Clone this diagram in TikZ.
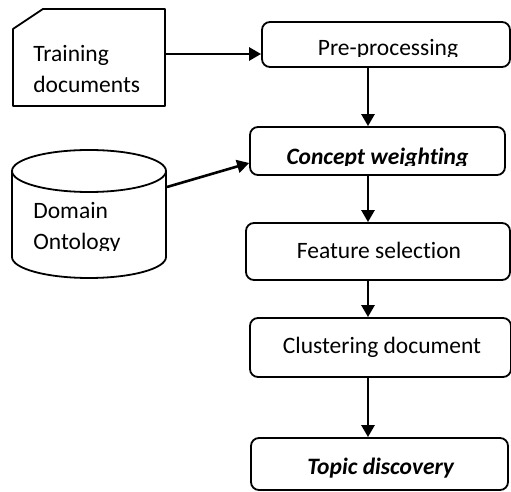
\documentclass[tikz,border=0pt]{standalone}
\usepackage{fontspec}
\setmainfont{Carlito}[Ligatures=NoCommon]
\usetikzlibrary{arrows.meta}

\tikzset{
  procbox/.style={draw,rounded corners=4pt,line width=0.9pt,inner sep=0pt},
  lbl/.style={inner sep=0pt,font=\fontsize{11.75}{15.5}\selectfont},
  flow/.style={->,line width=1.3pt},
}

\begin{document}
\begin{tikzpicture}[x=0.5pt,y=-0.5pt,line join=round,>={Triangle[length=6pt,width=6.5pt]}]
        \useasboundingbox (0,0) rectangle (511,492);
        % input document card
        \draw[line width=0.9pt] (13,29) -- (43,9) -- (165,9) -- (165,106) -- (13,106) -- cycle;
        \coordinate (trainE) at (165,54);
        \node[lbl,align=left,anchor=base west] (traintxt) at (33,93) {Training\\documents};
        % ontology store
        \draw[line width=0.9pt,fill=white] (12,171) -- (12,257) arc[start angle=180,end angle=0,x radius=77,y radius=21] -- (166,171);
        \draw[line width=0.9pt] (89,171) ellipse [x radius=77,y radius=21];
        \coordinate (ontoE) at (167,187);
        \begin{scope}
          \clip (12,192) rectangle (166,251);
          \node[lbl,align=left,anchor=base west] (ontotxt) at (33,250) {Domain\\Ontology};
        \end{scope}
        % processing chain
        \node[procbox,minimum width=124pt,minimum height=22.5pt] (prep) at (386,44.5) {};
        \node[procbox,minimum width=127.5pt,minimum height=24pt] (concept) at (377.5,151) {};
        \node[procbox,minimum width=132pt,minimum height=28.5pt] (feature) at (378,251.5) {};
        \node[procbox,minimum width=130.5pt,minimum height=29.5pt] (cluster) at (380.5,347.5) {};
        \node[procbox,minimum width=128.5pt,minimum height=26pt] (topic) at (379.5,464) {};
        \begin{scope}
          \clip (262,22) rectangle (510,57);
          \node[lbl,anchor=base] (preptxt) at (388,56) {Pre-processing};
        \end{scope}
        \begin{scope}
          \clip (250,127) rectangle (505,166);
          \node[lbl,anchor=base] (concepttxt) at (377.5,165) {\textbf{\textit{Concept weighting}}};
        \end{scope}
        \node[lbl,anchor=base] (featuretxt) at (379,259) {Feature selection};
        \node[lbl,anchor=base] (clustertxt) at (382,354) {Clustering document};
        \node[lbl,anchor=base] (topictxt) at (381,475) {\textbf{\textit{Topic discovery}}};
        % connectors
        \coordinate (axis) at (368,0);
        \coordinate (rowA) at (0,54);
        \coordinate (rowB) at (0,163);
        \draw[flow] (trainE) -- (prep.west |- rowA);
        \draw[flow] (ontoE) -- (concept.west |- rowB);
        \foreach \a/\b in {prep/concept,concept/feature,feature/cluster,cluster/topic}
        \draw[flow] (\a.south -| axis) -- (\b.north -| axis);
      \end{tikzpicture}
\end{document}
